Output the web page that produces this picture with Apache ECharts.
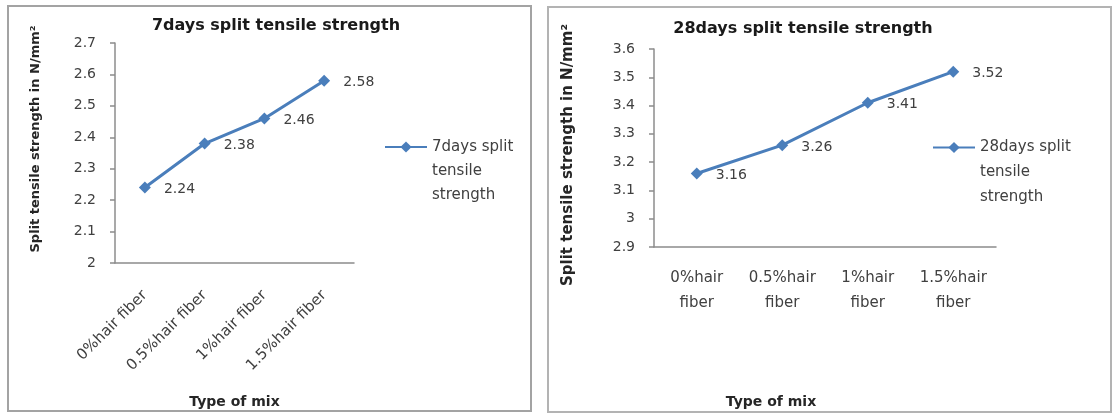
<!DOCTYPE html>
<html>
<head>
<meta charset="utf-8">
<title>Split tensile strength</title>
<script src="https://cdn.jsdelivr.net/npm/echarts@6/dist/echarts.min.js"></script>
<style>
  html, body { margin: 0; padding: 0; background: #ffffff; }
  #chart { width: 1120px; height: 414px; }
</style>
</head>
<body>
<div id="chart"></div>
<script>
// Mix types (hair fiber content)
const categories = ['0%hair fiber', '0.5%hair fiber', '1%hair fiber', '1.5%hair fiber'];

// Split tensile strength, N/mm²
const strength7 = [2.24, 2.38, 2.46, 2.58];
const strength28 = [3.16, 3.26, 3.41, 3.52];

// Value axis ranges
const yRange7 = { min: 2, max: 2.7, step: 0.1 };
const yRange28 = { min: 2.9, max: 3.6, step: 0.1 };

const seriesName7 = '7days split tensile strength';
const seriesName28 = '28days split tensile strength';

const FONT = 'DejaVu Sans';
const BLUE = '#4a7ebb';
const TEXT = '#404040';
const AXIS = '#8c8c8c';

const fmtTick = v => String(Math.round(v * 10) / 10);

const chart = echarts.init(document.getElementById('chart'), null, { renderer: 'canvas' });

function valueAxis(gridIndex, range, nameSize, nameGap, namePad) {
  return {
    type: 'value',
    gridIndex: gridIndex,
    min: range.min,
    max: range.max,
    interval: range.step,
    name: 'Split tensile strength in N/mm²',
    nameLocation: 'middle',
    nameGap: nameGap,
    nameTextStyle: {
      fontFamily: FONT, fontWeight: 'bold', fontSize: nameSize, color: '#262626',
      padding: namePad
    },
    axisLine: { show: true, lineStyle: { color: AXIS, width: 1.5 } },
    axisTick: { show: true, inside: false, length: 5, lineStyle: { color: AXIS, width: 1.5 } },
    splitLine: { show: false },
    axisLabel: { formatter: fmtTick, fontFamily: FONT, fontSize: 14, color: TEXT, margin: 19 }
  };
}

function lineSeries(name, data, axisIndex) {
  return {
    type: 'line',
    name: name,
    xAxisIndex: axisIndex,
    yAxisIndex: axisIndex,
    data: data,
    symbol: 'diamond',
    symbolSize: 12,
    lineStyle: { color: BLUE, width: 3 },
    itemStyle: { color: BLUE },
    label: {
      show: true,
      position: 'right',
      distance: 13,
      offset: [0, 2],
      fontFamily: FONT,
      fontSize: 14,
      color: TEXT
    }
  };
}

// Legend text wraps onto three lines; two leading blank lines keep the
// first line level with the legend symbol.
function legendFor(name, left, top, lineH) {
  return {
    data: [name],
    left: left,
    top: top,
    padding: 0,
    orient: 'vertical',
    itemWidth: 42,
    itemHeight: 14,
    itemGap: 0,
    selectedMode: false,
    formatter: n => '\n\n' + n.split(' ').reduce((acc, w, i) =>
      i === 0 ? w : (i === 1 ? acc + ' ' + w : acc + '\n' + w), ''),
    textStyle: {
      fontFamily: FONT,
      fontSize: 15,
      color: TEXT,
      lineHeight: lineH
    }
  };
}

chart.setOption({
  animation: false,
  backgroundColor: '#ffffff',
  title: [
    {
      text: '7days split tensile strength',
      left: 276, top: 18, textAlign: 'center', padding: 0,
      textStyle: { fontFamily: FONT, fontWeight: 'bold', fontSize: 16, color: '#1a1a1a' }
    },
    {
      text: '28days split tensile strength',
      left: 803, top: 21, textAlign: 'center', padding: 0,
      textStyle: { fontFamily: FONT, fontWeight: 'bold', fontSize: 16, color: '#1a1a1a' }
    }
  ],
  legend: [
    legendFor(seriesName7, 384, 87, 24),
    legendFor(seriesName28, 932, 85, 25)
  ],
  grid: [
    { left: 115, top: 43, width: 239, height: 229, containLabel: false },
    { left: 654, top: 49, width: 342, height: 198, containLabel: false }
  ],
  xAxis: [
    {
      type: 'category',
      gridIndex: 0,
      data: categories,
      boundaryGap: true,
      name: 'Type of mix',
      nameLocation: 'middle',
      nameGap: 132,
      nameTextStyle: { fontFamily: FONT, fontWeight: 'bold', fontSize: 14, color: '#262626' },
      axisLine: { show: true, lineStyle: { color: AXIS, width: 1.5 } },
      axisTick: { show: false },
      axisLabel: { rotate: 45, interval: 0, margin: 30, fontFamily: FONT, fontSize: 15, color: TEXT }
    },
    {
      type: 'category',
      gridIndex: 1,
      data: categories,
      boundaryGap: true,
      name: 'Type of mix',
      nameLocation: 'middle',
      nameGap: 148,
      nameTextStyle: {
        fontFamily: FONT, fontWeight: 'bold', fontSize: 14, color: '#262626',
        padding: [0, 108, 0, 0]
      },
      axisLine: { show: true, lineStyle: { color: AXIS, width: 1.5 } },
      axisTick: { show: false },
      axisLabel: {
        interval: 0, margin: 19, lineHeight: 25,
        formatter: v => v.replace(' ', '\n'),
        fontFamily: FONT, fontSize: 15, color: TEXT
      }
    }
  ],
  yAxis: [
    valueAxis(0, yRange7, 13, 73, [0, 0, 0, 28]),
    valueAxis(1, yRange28, 15, 78, [0, 14, 0, 0])
  ],
  series: [
    lineSeries(seriesName7, strength7, 0),
    lineSeries(seriesName28, strength28, 1)
  ],
  graphic: [
    {
      type: 'rect', silent: true, z: -1,
      shape: { x: 8, y: 6, width: 523, height: 405 },
      style: { fill: null, stroke: '#a3a3a3', lineWidth: 2 }
    },
    {
      type: 'rect', silent: true, z: -1,
      shape: { x: 548, y: 7, width: 563, height: 405 },
      style: { fill: null, stroke: '#b3b3b3', lineWidth: 2 }
    }
  ]
});
</script>
</body>
</html>
